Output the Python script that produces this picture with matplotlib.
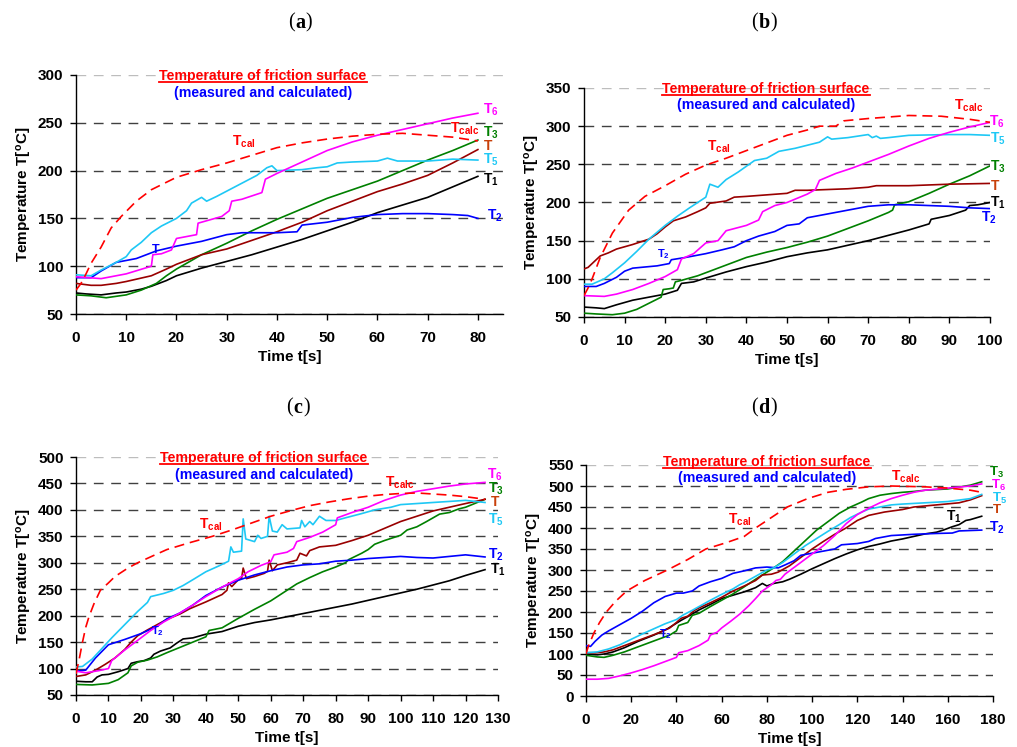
import matplotlib
matplotlib.use('Agg')
import matplotlib.pyplot as plt
from matplotlib.lines import Line2D

plt.rcParams['font.family'] = ['Liberation Sans', 'DejaVu Sans']
plt.rcParams['mathtext.fontset'] = 'custom'
plt.rcParams['mathtext.rm'] = 'Liberation Sans'
plt.rcParams['mathtext.bf'] = 'Liberation Sans:bold'
plt.rcParams['mathtext.it'] = 'Liberation Sans:italic'

W, H = 1017, 747

# ---------------- data: (time [s], temperature [degC]) ----------------
# Panel (a)
A_T1 = [(0,72),(2,71),(5,70),(8,72),(10,73),(13,76),(15,79),(18,85),(20,90),(25,98),(30,105),(35,112),(40,120),(45,128),(50,137),(55,146),(60,156),(65,164),(70,172),(75,183),(80,194)]
A_T2 = [(0,88),(3,88),(5,95),(8,104),(10,106),(12,108),(14,112),(16,116),(20,121),(25,126),(30,133),(33,135),(40,135),(44,136),(45,143),(50,146),(55,151),(60,154),(65,155),(70,155),(75,154),(78,153),(80,150)]
A_T3 = [(0,70),(3,69),(6,67),(10,70),(13,75),(16,82),(18,90),(20,97),(23,106),(25,112),(30,124),(35,137),(40,149),(45,160),(50,171),(55,180),(60,189),(65,200),(70,211),(75,221),(80,232)]
A_T = [(0,82),(3,80),(5,80),(8,82),(10,84),(15,90),(18,97),(20,102),(25,112),(30,118),(35,127),(40,136),(45,146),(50,158),(55,168),(60,178),(65,186),(70,195),(75,208),(80,222)]
A_T5 = [(0,91),(3,90),(5,96),(8,104),(10,110),(11,117),(13,125),(15,135),(17,142),(20,150),(22,158),(23,166),(25,172),(26,168),(28,173),(32,184),(36,195),(38,203),(39,205),(40,200),(45,201),(48,203),(50,204),(52,208),(55,209),(60,210),(62,213),(64,210),(70,210),(75,212),(80,211)]
A_T6 = [(0,89),(5,87),(10,92),(15,100),(15.3,112),(17,113),(19,117),(20,129),(24,133),(24.3,145),(29,152),(30.5,158),(31,168),(33,170),(37,177),(37.7,191),(40,197),(45,209),(50,221),(55,230),(60,237),(65,243),(70,249),(75,255),(80,260)]
A_TC = [(0,75),(1,82),(2,92),(3,103),(5,120),(7,140),(9,152),(12,168),(15,180),(20,193),(25,201),(30,208),(35,216),(40,224),(45,229),(50,233),(55,236),(60,238),(65,239),(70,237),(75,235),(80,231)]

# Panel (b)
B_T1 = [(0,63),(3,62),(5,61),(8,66),(12,72),(15,75),(20,80),(23,85),(24,94),(27,96),(30,101),(35,109),(40,116),(45,122),(50,129),(55,134),(60,138),(65,144),(70,150),(75,157),(80,164),(85,172),(85.5,178),(90,183),(94,190),(95,196),(97,197),(100,200)]
B_T2 = [(0,90),(3,90),(5,94),(8,102),(10,110),(12,114),(18,117),(21,120),(21.5,125),(25,128),(30,133),(34,138),(37,142),(40,150),(43,156),(47,162),(50,170),(53,172),(55,180),(60,185),(65,190),(70,195),(75,197),(80,197),(85,196),(90,195),(95,193),(100,192)]
B_T3 = [(0,55),(3,54),(7,53),(10,55),(13,60),(16,68),(19,76),(19.5,86),(21,87),(22,88),(22.5,96),(24,98),(28,104),(32,112),(36,120),(40,128),(45,135),(50,141),(55,148),(60,156),(65,166),(70,176),(75,187),(76,190),(76.5,197),(80,201),(85,212),(90,224),(95,235),(100,248)]
B_T = [(0,113),(1,115),(3,125),(4,130),(6,134),(8,139),(12,145),(16,152),(18,159),(20,168),(22,176),(25,181),(28,188),(30,193),(31,199),(35,202),(37,207),(40,208),(45,210),(50,212),(52,216),(55,216),(60,217),(65,218),(70,220),(72,222),(80,222),(90,224),(100,225)]
B_T5 = [(0,93),(2,93),(5,100),(7,108),(10,121),(13,136),(16,152),(20,170),(23,182),(26,193),(30,207),(31,224),(33,220),(35,230),(38,240),(42,255),(45,258),(48,267),(52,271),(55,275),(58,279),(60,286),(61,283),(65,285),(70,289),(71,285),(72,287),(73,284),(75,285),(80,288),(90,289),(95,289),(100,288)]
B_T6 = [(0,78),(5,77),(8,80),(12,86),(16,94),(20,103),(23,112),(24,126),(27,133),(30,147),(33,150),(35,163),(40,170),(43,177),(44,188),(47,196),(50,200),(55,211),(57,217),(58,229),(62,238),(66,245),(70,253),(75,263),(80,274),(85,284),(90,292),(95,299),(100,305)]
B_TC = [(0,78),(1,88),(2,100),(4,128),(7,160),(11,190),(15,208),(20,222),(25,237),(30,249),(35,258),(40,268),(45,278),(50,288),(55,295),(58,300),(62,300),(64,307),(70,310),(80,314),(88,313),(95,309),(100,305)]

# Panel (c)
C_T1 = [(0,76),(3,75),(5,75),(6.5,84),(8,88),(10,89),(13,94),(16,100),(17,110),(19,113),(21,115),(23,120),(24,127),(26,133),(29,139),(31,148),(33,156),(36,158),(40,165),(45,170),(50,180),(55,187),(60,192),(65,198),(70,204),(75,210),(80,216),(85,222),(90,229),(95,236),(100,243),(105,250),(110,258),(115,266),(120,276),(126,287)]
C_T2 = [(0,95),(3,97),(6,120),(10,145),(15,155),(20,166),(25,180),(28,194),(32,205),(36,220),(40,238),(45,254),(50,267),(55,277),(60,285),(65,292),(70,296),(75,298),(80,303),(85,305),(90,308),(95,310),(100,312),(105,310),(110,309),(115,312),(120,315),(126,311)]
C_T3 = [(0,70),(5,69),(10,72),(13,79),(16,92),(17,105),(19,112),(22,116),(25,122),(28,130),(32,140),(36,150),(40,160),(41,172),(45,177),(50,195),(55,212),(60,228),(65,248),(68,260),(72,272),(76,283),(80,292),(83,300),(84,306),(88,318),(90,325),(92,335),(95,342),(100,352),(102,362),(105,368),(108,378),(110,385),(112,392),(115,395),(118,402),(120,405),(126,420)]
C_T = [(0,85),(3,88),(6,97),(9,108),(12,120),(15,136),(17,150),(19,162),(22,173),(25,183),(28,193),(32,203),(35,213),(40,226),(45,240),(46.5,248),(47,262),(48,255),(50,268),(51,270),(51.5,290),(52.5,270),(55,274),(58,280),(59,284),(59.5,305),(60.5,285),(62,296),(65,300),(68,305),(69,318),(71,313),(72,323),(75,330),(80,333),(85,342),(90,352),(95,365),(100,378),(105,388),(110,398),(115,405),(120,412),(126,420)]
C_T5 = [(0,103),(2,104),(5,118),(8,138),(11,158),(15,183),(19,208),(22,225),(23,236),(27,242),(30,248),(33,257),(36,268),(40,283),(44,294),(47,303),(47.7,330),(48.5,320),(51,322),(51.5,383),(52.3,345),(55,340),(56,352),(57,346),(59,350),(59.5,388),(60.5,360),(62,358),(63.5,372),(65,364),(69,366),(69.5,380),(70.5,368),(72,378),(73,372),(75,388),(77,380),(80,380),(83,385),(88,393),(92,400),(97,405),(100,410),(105,412),(110,414),(115,416),(120,418),(126,414)]
C_T6 = [(0,95),(3,92),(7,96),(10,100),(11,115),(15,135),(20,158),(23,172),(27,188),(32,205),(36,220),(40,236),(45,254),(50,270),(53,283),(57,295),(60,302),(61,315),(65,320),(67,327),(68,340),(72,348),(76,358),(80,372),(80.5,385),(85,395),(90,405),(95,418),(100,428),(105,435),(110,440),(115,445),(120,449),(126,452)]
C_TC = [(0,90),(1,118),(2,150),(3,178),(4,198),(5.5,222),(7.5,248),(10,262),(12,274),(16,290),(19,300),(24,314),(28,325),(35,338),(42,350),(48,362),(54,375),(60,388),(67,400),(72,408),(78,415),(84,421),(90,426),(95,429),(100,431),(105,432),(110,430),(115,428),(120,425),(126,420)]

# Panel (d)
D_T1 = [(0,100),(5,98),(8,100),(12,105),(17,115),(23,130),(30,145),(36,160),(42,180),(46,192),(50,205),(55,218),(60,232),(65,240),(70,248),(75,258),(78,268),(80,262),(83,268),(87,272),(90,278),(95,290),(100,303),(105,315),(110,327),(115,338),(120,348),(125,356),(130,362),(135,369),(140,374),(145,380),(150,386),(155,390),(158,395),(162,403),(165,408),(168,418),(170,420),(175,428)]
D_T2 = [(0,120),(2,118),(4,130),(7,145),(10,155),(15,170),(20,185),(25,202),(30,222),(35,237),(40,245),(43,245),(47,250),(50,262),(55,272),(60,280),(65,292),(70,298),(75,305),(80,307),(85,305),(88,312),(92,322),(95,335),(100,340),(105,345),(110,350),(113,360),(120,363),(125,368),(128,375),(135,382),(145,385),(155,387),(162,388),(165,393),(175,395)]
D_T3 = [(0,97),(5,93),(8,92),(12,97),(17,105),(22,115),(27,125),(32,135),(37,145),(40,155),(41,168),(45,175),(47,192),(50,197),(55,213),(60,228),(65,243),(70,260),(75,278),(80,295),(83,305),(87,320),(92,345),(97,370),(102,395),(107,415),(112,435),(117,450),(122,462),(125,470),(130,478),(135,482),(140,485),(145,487),(150,490),(160,493),(170,502),(175,510)]
D_T = [(0,103),(5,103),(8,105),(12,110),(17,120),(22,130),(27,140),(32,150),(37,162),(40,175),(42,185),(45,190),(48,204),(50,210),(55,222),(60,235),(65,250),(70,262),(75,275),(78,288),(82,290),(85,295),(90,310),(95,330),(100,350),(105,368),(110,385),(115,400),(120,418),(123,425),(125,430),(132,438),(140,444),(145,450),(155,455),(165,460),(170,467),(175,477)]
D_T5 = [(0,103),(5,105),(10,112),(15,122),(20,135),(25,148),(30,160),(35,172),(40,182),(43,193),(47,204),(50,213),(55,228),(60,242),(65,255),(68,265),(70,270),(75,285),(80,300),(83,305),(87,318),(92,338),(97,358),(102,375),(107,392),(112,408),(117,425),(122,438),(125,445),(130,450),(135,455),(140,457),(150,460),(160,463),(170,470),(175,480)]
D_T6 = [(0,40),(5,40),(10,42),(15,48),(20,55),(25,63),(30,72),(35,82),(40,92),(41,103),(45,108),(50,120),(54,133),(55,145),(58,152),(60,162),(64,178),(68,195),(72,215),(75,232),(78,250),(82,265),(84,275),(86,278),(88,290),(90,298),(95,318),(100,338),(105,358),(110,382),(115,410),(120,432),(125,447),(130,460),(135,470),(140,478),(145,485),(150,490),(160,495),(170,500),(175,505)]
D_TC = [(0,100),(1,118),(3.5,150),(6,175),(9,200),(13,225),(18,250),(26,275),(36,300),(45,325),(53,350),(62,365),(70,380),(75,400),(82,425),(89,450),(98,470),(107,485),(115,492),(125,498),(135,500),(150,498),(160,495),(170,490),(175,485)]

# axis limits / ticks
A_XTICKS = list(range(0, 81, 10)); A_YTICKS = list(range(50, 301, 50))
B_XTICKS = list(range(0, 101, 10)); B_YTICKS = list(range(50, 351, 50))
C_XTICKS = list(range(0, 131, 10)); C_YTICKS = list(range(50, 501, 50))
D_XTICKS = list(range(0, 181, 20)); D_YTICKS = list(range(0, 551, 50))

# ---------------- styles ----------------
BLACK = '#000000'; BLUE = '#0000FF'; GREEN = '#008000'; DRED = '#990000'
CYAN = '#1EC8F5'; MAGENTA = '#FF00FF'; RED = '#FF0000'; TLAB = '#C8400A'

def series_list(T1, T2, T3, T, T5, T6, TC):
    return [(T1, BLACK, '-'), (T3, GREEN, '-'), (T, DRED, '-'), (T2, BLUE, '-'),
            (T5, CYAN, '-'), (T6, MAGENTA, '-'), (TC, RED, '--')]

# labels: (subscript, color, x, y(baseline), fontsize)
A_LBL = [('6', MAGENTA, 81, 260, 10), ('calc', RED, 74.5, 239.7, 10), ('3', GREEN, 81, 236, 10),
         ('', TLAB, 81, 221.5, 10), ('5', CYAN, 81, 207.6, 10), ('1', BLACK, 81, 186, 10),
         ('2', BLUE, 81.8, 148.3, 10), ('cal', RED, 31, 225.7, 10), ('', BLUE, 14.9, 114, 9)]
B_LBL = [('calc', RED, 91.2, 321.6, 10), ('6', MAGENTA, 99.8, 301, 10), ('5', CYAN, 100, 278, 10),
         ('3', GREEN, 100, 242, 10), ('', TLAB, 100, 216, 10), ('1', BLACK, 100, 194, 10),
         ('2', BLUE, 97.7, 174.5, 10), ('cal', RED, 30.2, 268, 10), ('2', BLUE, 17.9, 127.7, 8)]
C_LBL = [('6', MAGENTA, 126.5, 460, 10), ('3', GREEN, 127, 433, 10), ('', TLAB, 127.5, 406.6, 10),
         ('5', CYAN, 127, 373.7, 10), ('2', BLUE, 127, 308.7, 10), ('1', BLACK, 127.5, 280, 10),
         ('calc', RED, 95.2, 444.4, 10), ('cal', RED, 38, 365.5, 10), ('2', BLUE, 23, 165, 8)]
D_LBL = [('3', GREEN, 178.4, 524, 9.5), ('calc', RED, 134.7, 514, 10), ('6', MAGENTA, 179, 492, 9.5),
         ('5', CYAN, 179.4, 461, 9.5), ('', TLAB, 179.4, 435, 9.5), ('1', BLACK, 159.3, 417.5, 10),
         ('2', BLUE, 178.4, 391, 10), ('cal', RED, 63, 411, 10), ('2', BLUE, 32.4, 141, 8)]

PANELS = [
    dict(rect=(76, 75, 503, 314), xlim=(0, 85), xt=A_XTICKS, yt=A_YTICKS, letter='a', lxy=(300, 23),
         tx=263, ty1=80, ty2=97, ser=series_list(A_T1, A_T2, A_T3, A_T, A_T5, A_T6, A_TC), lbl=A_LBL),
    dict(rect=(584, 88, 990, 317), xlim=(0, 100), xt=B_XTICKS, yt=B_YTICKS, letter='b', lxy=(764, 23),
         tx=766, ty1=93, ty2=109, ser=series_list(B_T1, B_T2, B_T3, B_T, B_T5, B_T6, B_TC), lbl=B_LBL),
    dict(rect=(76, 457, 498, 695), xlim=(0, 130), xt=C_XTICKS, yt=C_YTICKS, letter='c', lxy=(298, 408),
         tx=264, ty1=462, ty2=479, ser=series_list(C_T1, C_T2, C_T3, C_T, C_T5, C_T6, C_TC), lbl=C_LBL),
    dict(rect=(586, 465, 993, 696), xlim=(0, 180), xt=D_XTICKS, yt=D_YTICKS, letter='d', lxy=(764, 408),
         tx=767, ty1=466, ty2=482, ser=series_list(D_T1, D_T2, D_T3, D_T, D_T5, D_T6, D_TC), lbl=D_LBL),
]

fig = plt.figure(figsize=(W / 100, H / 100), dpi=100)

def fx(px):
    return px / W

def fy(py):
    return 1 - py / H

titles = []
letters = []
for p in PANELS:
    l, t, r, b = p['rect']
    ax = fig.add_axes([fx(l), fy(b), (r - l) / W, (b - t) / H])
    for data, col, ls in p['ser']:
        xs = [d[0] for d in data]
        ys = [d[1] for d in data]
        if ls == '--':
            ax.plot(xs, ys, color=col, lw=1.2, dashes=(6, 3.5), zorder=3)
        else:
            ax.plot(xs, ys, color=col, lw=1.2, zorder=3)
    ax.set_xlim(*p['xlim'])
    ax.set_ylim(p['yt'][0], p['yt'][-1])
    ax.set_xticks(p['xt'])
    ax.set_yticks(p['yt'])
    ax.yaxis.grid(True, color='#404040', lw=1.0, dashes=(7, 5.5))
    gl = ax.get_ygridlines()
    if gl:
        gl[-1].set_color('#BDBDBD')
    ax.set_axisbelow(True)
    for s in ('top', 'right'):
        ax.spines[s].set_visible(False)
    for s in ('left', 'bottom'):
        ax.spines[s].set_linewidth(1.0)
        ax.spines[s].set_color('#000000')
    ax.tick_params(axis='both', direction='out', length=4, width=1.0, labelsize=11)
    ax.tick_params(axis='x', pad=8)
    ax.tick_params(axis='y', pad=5)
    for lab in ax.get_xticklabels() + ax.get_yticklabels():
        lab.set_fontweight('bold')
    ax.set_ylabel(r'Temperature T[$\mathbf{{}^{o}}$C]', fontsize=11, fontweight='bold', labelpad=3)
    ax.set_xlabel('Time t[s]', fontsize=11, fontweight='bold', labelpad=4)

    for sub, col, x, y, fs in p['lbl']:
        s = r'$\mathbf{T_{%s}}$' % sub if sub else r'$\mathbf{T}$'
        ax.text(x, y, s, color=col, fontsize=fs, ha='left', va='baseline', zorder=5)

    t1 = fig.text(fx(p['tx']), fy(p['ty1']), 'Temperature of friction surface', color=RED,
                  fontsize=10.2, fontweight='bold', ha='center', va='baseline')
    fig.text(fx(p['tx']), fy(p['ty2']), '(measured and calculated)', color=BLUE,
             fontsize=10.2, fontweight='bold', ha='center', va='baseline')
    titles.append((t1, p['ty1']))

    lx, ly = p['lxy']
    tm = fig.text(fx(lx), fy(ly), p['letter'], fontsize=14.5, fontweight='bold',
                  family=['Liberation Serif', 'DejaVu Serif'], ha='center', va='center')
    letters.append((tm, lx, ly))

fig.canvas.draw()
renderer = fig.canvas.get_renderer()
for t1, base in titles:
    bb = t1.get_window_extent(renderer)
    yline = fy(base + 2)
    fig.add_artist(Line2D([fx(bb.x0), fx(bb.x1)], [yline, yline], color=RED, lw=1.3,
                          transform=fig.transFigure))
for tm, lx, ly in letters:
    bb = tm.get_window_extent(renderer)
    fig.text(fx(bb.x0 - 0.5), fy(ly), '(', fontsize=14.5, family=['Liberation Serif', 'DejaVu Serif'],
             ha='right', va='center')
    fig.text(fx(bb.x1 + 0.5), fy(ly), ')', fontsize=14.5, family=['Liberation Serif', 'DejaVu Serif'],
             ha='left', va='center')

fig.savefig('out.png', dpi=100)
